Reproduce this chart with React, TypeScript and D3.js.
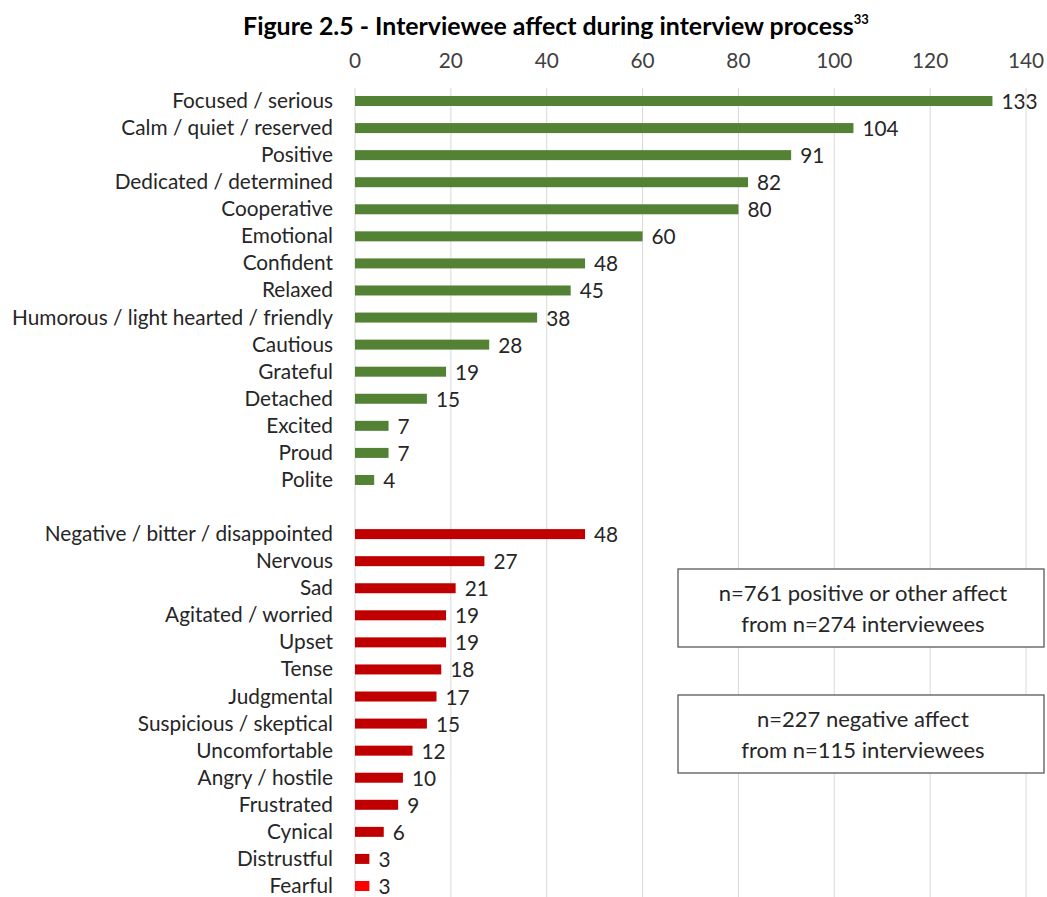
import { useRef, useEffect } from "react";
import * as d3 from "d3";

const positiveLabels = [
  "Focused / serious", "Calm / quiet / reserved", "Positive", "Dedicated / determined",
  "Cooperative", "Emotional", "Confident", "Relaxed", "Humorous / light hearted / friendly",
  "Cautious", "Grateful", "Detached", "Excited", "Proud", "Polite",
];
const positiveValues = [133, 104, 91, 82, 80, 60, 48, 45, 38, 28, 19, 15, 7, 7, 4];

const negativeLabels = [
  "Negative / bitter / disappointed", "Nervous", "Sad", "Agitated / worried", "Upset",
  "Tense", "Judgmental", "Suspicious / skeptical", "Uncomfortable", "Angry / hostile",
  "Frustrated", "Cynical", "Distrustful", "Fearful",
];
const negativeValues = [48, 27, 21, 19, 19, 18, 17, 15, 12, 10, 9, 6, 3, 3];

const xTicks = [0, 20, 40, 60, 80, 100, 120, 140];

const noteLines = [
  ["n=761 positive or other affect", "from n=274 interviewees"],
  ["n=227 negative affect", "from n=115 interviewees"],
];

const FONT = "Lato, 'Open Sans', sans-serif";

export default function App() {
  const svgRef = useRef<SVGSVGElement | null>(null);

  useEffect(() => {
    const svg = d3.select(svgRef.current);
    svg.selectAll("*").remove();

    // one empty slot between the two groups
    const rows = [
      ...positiveLabels.map((l, i) => ({ key: "p" + i, label: l, value: positiveValues[i], color: "#548235" })),
      { key: "gap", label: "", value: null as number | null, color: "none" },
      ...negativeLabels.map((l, i) => ({
        key: "n" + i,
        label: l,
        value: negativeValues[i],
        color: l === "Fearful" ? "#ff0000" : "#c00000",
      })),
    ];

    const x = d3.scaleLinear().domain([0, 140]).range([355, 1026]);
    const y = d3.scalePoint<string>().domain(rows.map((r) => r.key)).range([101, 886]);
    const barH = 10;
    const fs = 20.8;

    // gridlines
    svg
      .append("g")
      .selectAll("line")
      .data(xTicks)
      .join("line")
      .attr("x1", (d) => x(d))
      .attr("x2", (d) => x(d))
      .attr("y1", 88)
      .attr("y2", 897)
      .attr("stroke", "#d9d9d9")
      .attr("stroke-width", 1);

    // top axis labels
    svg
      .append("g")
      .selectAll("text")
      .data(xTicks)
      .join("text")
      .attr("x", (d) => x(d))
      .attr("y", 68)
      .attr("text-anchor", "middle")
      .attr("font-size", fs)
      .attr("fill", "#404040")
      .text((d) => d);

    const data = rows.filter((r) => r.value !== null);

    svg
      .append("g")
      .selectAll("rect")
      .data(data)
      .join("rect")
      .attr("x", x(0))
      .attr("y", (d) => (y(d.key) as number) - barH / 2)
      .attr("width", (d) => x(d.value as number) - x(0))
      .attr("height", barH)
      .attr("fill", (d) => d.color);

    // value labels
    svg
      .append("g")
      .selectAll("text")
      .data(data)
      .join("text")
      .attr("x", (d) => x(d.value as number) + 9)
      .attr("y", (d) => (y(d.key) as number) + 8)
      .attr("font-size", fs)
      .attr("fill", "#262626")
      .text((d) => d.value as number);

    // category labels
    svg
      .append("g")
      .selectAll("text")
      .data(data)
      .join("text")
      .attr("x", 333)
      .attr("y", (d) => (y(d.key) as number) + 7)
      .attr("text-anchor", "end")
      .attr("font-size", fs)
      .attr("fill", "#262626")
      .text((d) => d.label);

    // note boxes
    const boxes = [
      { top: 569, lines: noteLines[0] },
      { top: 695, lines: noteLines[1] },
    ];
    boxes.forEach((b) => {
      svg
        .append("rect")
        .attr("x", 678)
        .attr("y", b.top)
        .attr("width", 366)
        .attr("height", 78)
        .attr("fill", "#fff")
        .attr("stroke", "#595959")
        .attr("stroke-width", 1.3);
      b.lines.forEach((t, i) => {
        svg
          .append("text")
          .attr("x", 863)
          .attr("y", b.top + 32 + i * 31)
          .attr("text-anchor", "middle")
          .attr("font-size", 22)
          .attr("fill", "#262626")
          .text(t);
      });
    });

    // title
    const title = svg
      .append("text")
      .attr("x", 556)
      .attr("y", 35)
      .attr("text-anchor", "middle")
      .attr("font-size", 24.9)
      .attr("font-weight", "bold")
      .attr("fill", "#000");
    title.append("tspan").text("Figure 2.5 - Interviewee affect during interview process");
    title.append("tspan").attr("font-size", 13).attr("dy", -11).text("33");
  }, []);

  return (
    <div style={{ position: "absolute", left: 0, top: 0 }}>
      <svg
        ref={svgRef}
        width={1047}
        height={897}
        style={{ display: "block", background: "#fff", fontFamily: FONT }}
      />
    </div>
  );
}
